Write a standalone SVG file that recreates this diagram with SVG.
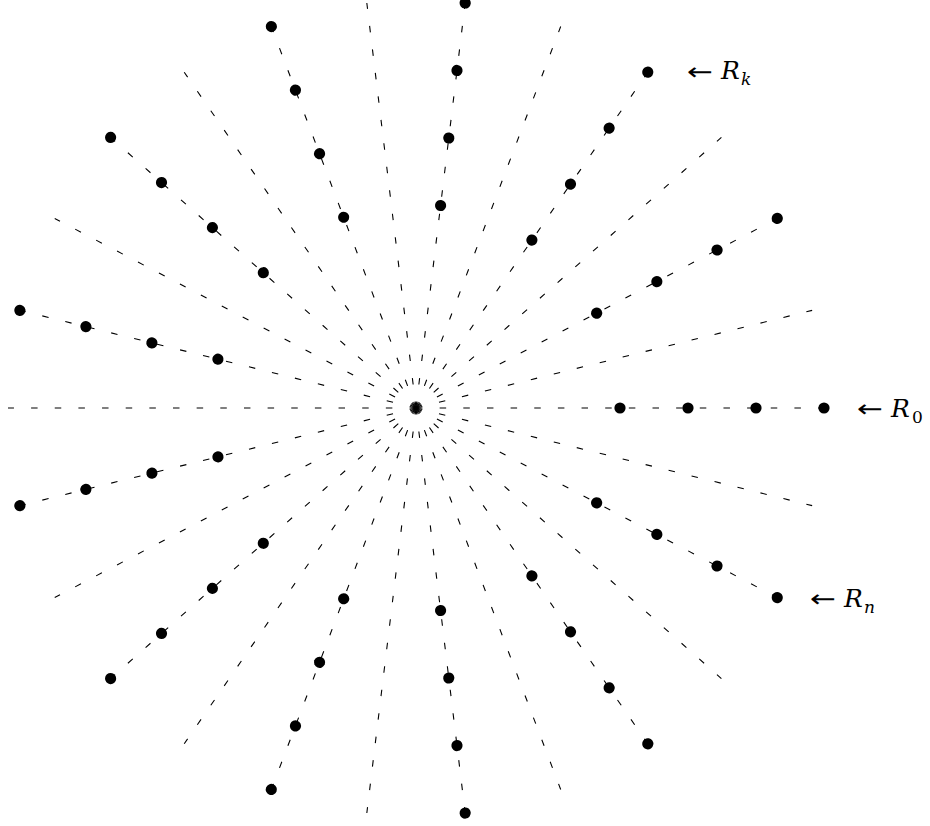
<svg xmlns="http://www.w3.org/2000/svg" width="930" height="826" viewBox="0 0 930 826">
<style>
.ray{stroke:#000;stroke-width:1.1;stroke-dasharray:6.5 17.15;fill:none}
.pt{fill:#000}
.lbl{font-family:"DejaVu Serif","Liberation Serif",serif;font-size:25px;fill:#000}
.arr{font-family:"DejaVu Sans","DejaVu Serif",sans-serif;font-size:24px;fill:#000}
.it{font-style:italic}
.sub{font-size:17px}
</style>
<rect width="930" height="826" fill="#fff"/>
<defs>
<g id="dots"><circle cx="620" cy="408" r="5.6"/><circle cx="688" cy="408" r="5.6"/><circle cx="756" cy="408" r="5.6"/><circle cx="824" cy="408" r="5.6"/></g>
</defs>
<g id="connectors">
<line class="ray" x1="416" y1="408" x2="824" y2="408" transform="rotate(0 416 408)"/>
<line class="ray" x1="416" y1="408" x2="824" y2="408" transform="rotate(-13.84615 416 408)"/>
<line class="ray" x1="416" y1="408" x2="824" y2="408" transform="rotate(-27.69231 416 408)"/>
<line class="ray" x1="416" y1="408" x2="824" y2="408" transform="rotate(-41.53846 416 408)"/>
<line class="ray" x1="416" y1="408" x2="824" y2="408" transform="rotate(-55.38462 416 408)"/>
<line class="ray" x1="416" y1="408" x2="824" y2="408" transform="rotate(-69.23077 416 408)"/>
<line class="ray" x1="416" y1="408" x2="824" y2="408" transform="rotate(-83.07692 416 408)"/>
<line class="ray" x1="416" y1="408" x2="824" y2="408" transform="rotate(-96.92308 416 408)"/>
<line class="ray" x1="416" y1="408" x2="824" y2="408" transform="rotate(-110.76923 416 408)"/>
<line class="ray" x1="416" y1="408" x2="824" y2="408" transform="rotate(-124.61538 416 408)"/>
<line class="ray" x1="416" y1="408" x2="824" y2="408" transform="rotate(-138.46154 416 408)"/>
<line class="ray" x1="416" y1="408" x2="824" y2="408" transform="rotate(-152.30769 416 408)"/>
<line class="ray" x1="416" y1="408" x2="824" y2="408" transform="rotate(-166.15385 416 408)"/>
<line class="ray" x1="416" y1="408" x2="824" y2="408" transform="rotate(-180 416 408)"/>
<line class="ray" x1="416" y1="408" x2="824" y2="408" transform="rotate(-193.84615 416 408)"/>
<line class="ray" x1="416" y1="408" x2="824" y2="408" transform="rotate(-207.69231 416 408)"/>
<line class="ray" x1="416" y1="408" x2="824" y2="408" transform="rotate(-221.53846 416 408)"/>
<line class="ray" x1="416" y1="408" x2="824" y2="408" transform="rotate(-235.38462 416 408)"/>
<line class="ray" x1="416" y1="408" x2="824" y2="408" transform="rotate(-249.23077 416 408)"/>
<line class="ray" x1="416" y1="408" x2="824" y2="408" transform="rotate(-263.07692 416 408)"/>
<line class="ray" x1="416" y1="408" x2="824" y2="408" transform="rotate(-276.92308 416 408)"/>
<line class="ray" x1="416" y1="408" x2="824" y2="408" transform="rotate(-290.76923 416 408)"/>
<line class="ray" x1="416" y1="408" x2="824" y2="408" transform="rotate(-304.61538 416 408)"/>
<line class="ray" x1="416" y1="408" x2="824" y2="408" transform="rotate(-318.46154 416 408)"/>
<line class="ray" x1="416" y1="408" x2="824" y2="408" transform="rotate(-332.30769 416 408)"/>
<line class="ray" x1="416" y1="408" x2="824" y2="408" transform="rotate(-346.15385 416 408)"/>
</g>
<g id="ray-0" class="pt"><use href="#dots" transform="rotate(0 416 408)"/></g>
<g id="ray-2" class="pt"><use href="#dots" transform="rotate(-27.69231 416 408)"/></g>
<g id="ray-4" class="pt"><use href="#dots" transform="rotate(-55.38462 416 408)"/></g>
<g id="ray-6" class="pt"><use href="#dots" transform="rotate(-83.07692 416 408)"/></g>
<g id="ray-8" class="pt"><use href="#dots" transform="rotate(-110.76923 416 408)"/></g>
<g id="ray-10" class="pt"><use href="#dots" transform="rotate(-138.46154 416 408)"/></g>
<g id="ray-12" class="pt"><use href="#dots" transform="rotate(-166.15385 416 408)"/></g>
<g id="ray-14" class="pt"><use href="#dots" transform="rotate(-193.84615 416 408)"/></g>
<g id="ray-16" class="pt"><use href="#dots" transform="rotate(-221.53846 416 408)"/></g>
<g id="ray-18" class="pt"><use href="#dots" transform="rotate(-249.23077 416 408)"/></g>
<g id="ray-20" class="pt"><use href="#dots" transform="rotate(-276.92308 416 408)"/></g>
<g id="ray-22" class="pt"><use href="#dots" transform="rotate(-304.61538 416 408)"/></g>
<g id="ray-24" class="pt"><use href="#dots" transform="rotate(-332.30769 416 408)"/></g>
<g id="label-R0"><text class="arr" x="857" y="417" textLength="26" lengthAdjust="spacingAndGlyphs">←</text><text class="lbl" y="417"><tspan class="it" x="891">R</tspan><tspan class="sub" x="912" y="423">0</tspan></text></g>
<g id="label-Rk"><text class="arr" x="687" y="80" textLength="26" lengthAdjust="spacingAndGlyphs">←</text><text class="lbl" y="79"><tspan class="it" x="721">R</tspan><tspan class="sub it" x="741" y="85">k</tspan></text></g>
<g id="label-Rn"><text class="arr" x="810" y="607" textLength="26" lengthAdjust="spacingAndGlyphs">←</text><text class="lbl" y="607"><tspan class="it" x="844">R</tspan><tspan class="sub it" x="864" y="613">n</tspan></text></g>
</svg>
